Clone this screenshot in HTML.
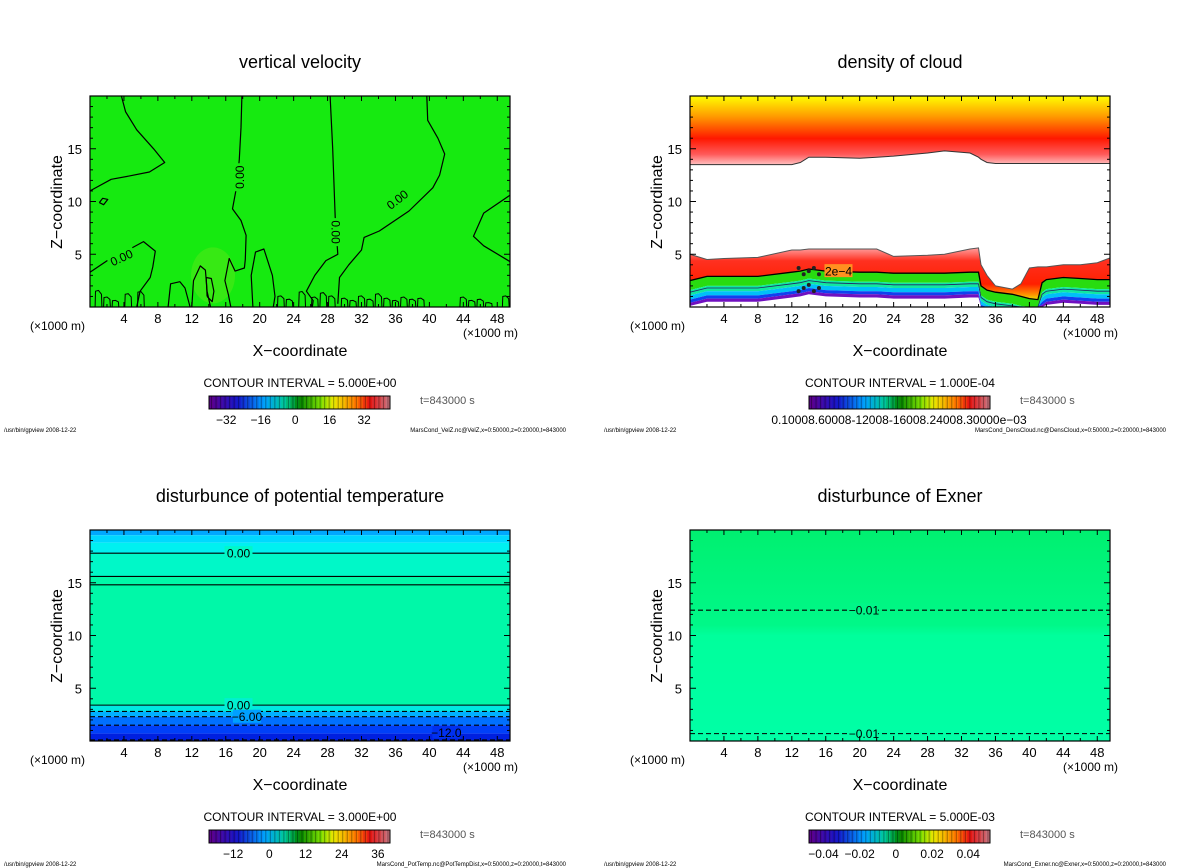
<!DOCTYPE html>
<html><head><meta charset="utf-8">
<style>
html,body{margin:0;padding:0;background:#fff;}
svg{display:block;font-family:"Liberation Sans","DejaVu Sans",sans-serif;}
</style></head>
<body>
<svg id="fig" width="1200" height="868" viewBox="0 0 1200 868" xmlns="http://www.w3.org/2000/svg">
<defs>
<linearGradient id="gUp" x1="0" y1="0" x2="0" y2="1">
<stop offset="0" stop-color="#ffff00"/><stop offset="0.3" stop-color="#ff9a00"/><stop offset="0.62" stop-color="#ff1800"/><stop offset="0.85" stop-color="#ff5a5a"/><stop offset="1" stop-color="#ffc0c0"/></linearGradient>
<linearGradient id="gRed" x1="0" y1="0" x2="0" y2="1">
<stop offset="0" stop-color="#ffa0a0"/><stop offset="0.25" stop-color="#ff3020"/><stop offset="0.7" stop-color="#ff2000"/><stop offset="0.9" stop-color="#ff9000"/><stop offset="1" stop-color="#e8e000"/></linearGradient>
<linearGradient id="gP4" x1="0" y1="0" x2="0" y2="1">
<stop offset="0" stop-color="#00f070"/><stop offset="0.45" stop-color="#00f888"/><stop offset="0.5" stop-color="#00ff9c"/><stop offset="1" stop-color="#00ffa6"/></linearGradient>
</defs>
</svg>
<script>
// ---------- data ----------
const xTicks = [4,8,12,16,20,24,28,32,36,40,44,48];
const zTicks = [5,10,15];
const titles = ["vertical velocity","density of cloud","disturbunce of potential temperature","disturbunce of Exner"];
const intervals = ["5.000E+00","1.000E-04","3.000E+00","5.000E-03"];
const cbLabels1 = ["-32","-16","0","16","32"];
const cbVals1 = [-32,-16,0,16,32];
const cbLabels3 = ["-12","0","12","24","36"];
const cbVals3 = [-12,0,12,24,36];
const cbLabels4 = ["-0.04","-0.02","0","0.02","0.04"];
const cbVals4 = [-0.04,-0.02,0,0.02,0.04];
const footers = ["MarsCond_VelZ.nc@VelZ,x=0:50000,z=0:20000,t=843000","MarsCond_DensCloud.nc@DensCloud,x=0:50000,z=0:20000,t=843000","MarsCond_PotTemp.nc@PotTempDist,x=0:50000,z=0:20000,t=843000","MarsCond_Exner.nc@Exner,x=0:50000,z=0:20000,t=843000"];

// panel 1 contour lines (x km, z km)
const velLineA = [[3.7,20],[4.2,18.5],[5.5,16.8],[7.5,15],[8.8,13.7],[7,12.8],[4.5,12.4],[2.5,12.1],[0,11]];
const velLineB = [[17.9,20],[17.8,17],[17.6,14],[17.3,11.5],[16.8,9.3],[17.8,8.2],[18.4,6.8],[18.3,4.5],[18.2,3.7],[17.1,3.4],[16.4,4.6],[15.9,2.5],[16.3,1.2],[16.6,0]];
const velLineC = [[28.3,20],[28.6,15],[28.9,8.5],[29.2,5],[27.8,4.4],[26.5,3],[25.5,1.5],[26.3,0.6],[26.2,0]];
const velLineD = [[39.7,20],[39.8,17.7],[41,16],[41.8,14.5],[41.2,12.5],[40.4,11.3],[37.6,9.1],[34.1,7.2],[32.3,6.6],[32,5.4],[30.5,4],[29.4,2.8],[29.2,0.3]];
const velLineE = [[49.5,10.6],[46.4,8.9],[45.2,6.7],[46.4,5.8],[49.5,4.3]];
const velLineF = [[0,3.3],[2.4,4.6],[4.7,5.5],[6.3,6.2],[7.7,5.3],[7.4,3.8],[7.1,2.8],[5.9,1.5],[5.5,0]];
const velLineG = [[19.2,0],[19.0,3],[19.5,5.2],[20.5,5.5],[21.5,3],[21.8,1],[21.6,0]];
const velLineH = [[9.2,0],[9.5,2.2],[10.6,2.4],[11.2,1.8],[11.8,0]];
const velLineI = [[12,0],[12.2,2.5],[13,3.9],[13.6,3.5],[13.8,1.5],[14.2,0]];
const velLoopJ = [[13.8,1],[13.7,2.8],[14.3,2.7],[14.6,1.5],[14.4,0.5],[13.8,1]];
const velLoopK = [[1.1,9.9],[1.5,10.3],[2.1,10.2],[1.6,9.7],[1.1,9.9]];
const velBottomX = [1,2,3,4.5,6,22.5,23.5,25,26.5,27.5,28.5,30,31,32,33,34,35,36,37,38,39,44,45,46,47,49];
const velBottomH = [1.5,0.9,0.6,1.2,1.4,1.0,0.7,1.4,0.9,1.3,1.0,0.8,0.6,1.0,0.7,1.2,0.8,0.6,0.9,0.7,0.8,0.9,0.6,0.7,0.4,1.0];

// panel 2 (density of cloud)
const cloudX = [0,2,4,8,12,13,14,16,20,22,24,28,30,33,34,34.3,35,36,38,39,40,41,41.5,42,44,46,48,50];
const upperBase = [13.5,13.5,13.5,13.5,13.5,13.7,14.2,14.2,14.1,14.2,14.3,14.6,14.8,14.6,14.2,14.0,13.7,13.6,13.6,13.6,13.6,13.6,13.6,13.6,13.6,13.6,13.6,13.6];
const lowerTop = [5.0,4.5,4.6,4.7,5.4,5.4,5.5,5.5,5.5,5.5,4.8,4.9,5.0,5.5,5.6,4.0,3.0,2.0,1.7,2.2,3.7,3.8,3.8,3.8,4.0,4.0,4.2,4.8];
const cont2e4 = [2.5,2.9,2.9,2.9,3.3,3.4,3.6,3.4,3.3,3.3,3.2,3.2,3.2,3.3,3.3,2.0,1.6,1.4,1.2,1.0,0.8,0.7,2.3,2.6,2.8,2.7,2.6,2.6];

// panel 3 (potential temperature) horizontal contours
const ptLevels = [17.8,15.6,14.8,3.4,2.8,2.3,1.5,0.1];
const ptDashed = [false,false,false,false,true,true,true,true];
// panel 4 (Exner)
const exLevels = [12.4,0.7];
</script>
<script>
const svg = document.getElementById('fig');
const NS = 'http://www.w3.org/2000/svg';
function mk(tag, attrs, parent, text){
  const e = document.createElementNS(NS, tag);
  for (const k in attrs) e.setAttribute(k, attrs[k]);
  if (text !== undefined) e.textContent = text;
  (parent||svg).appendChild(e);
  return e;
}
const PW = 420, PH = 211, XMAX = 49.5, ZMAX = 20;
const origins = [[90,96],[690,96],[90,530],[690,530]];
function axes(i){
  const [ox,oy] = origins[i];
  return {
    X: x => ox + x/XMAX*PW,
    Z: z => oy + PH - z/ZMAX*PH
  };
}
function pathOf(pts, ax){
  return pts.map((p,j)=>(j?'L':'M')+ax.X(p[0]).toFixed(1)+','+ax.Z(p[1]).toFixed(1)).join(' ');
}
function rainbow(t){
  const stops=[[0,[90,0,140]],[0.15,[20,20,200]],[0.3,[0,160,255]],[0.42,[0,200,150]],[0.5,[0,130,0]],[0.62,[120,220,0]],[0.7,[240,230,0]],[0.82,[255,120,0]],[0.9,[230,20,20]],[1,[200,110,120]]];
  for(let k=1;k<stops.length;k++){ if(t<=stops[k][0]){const a=stops[k-1],b=stops[k];const f=(t-a[0])/(b[0]-a[0]);return 'rgb('+a[1].map((v,m)=>Math.round(v+(b[1][m]-v)*f)).join(',')+')';}}
  return 'rgb(200,110,120)';
}

function panelFrame(i){
  const [ox,oy]=origins[i]; const ax=axes(i); const cx = ox+210; const g = mk('g',{});
  
  
  const t = mk('text',{x:cx,y:oy-28,'text-anchor':'middle','font-size':18,fill:'#000'},g,titles[i]);
   
  mk('rect',{x:ox,y:oy,width:PW,height:PH,fill:'none',stroke:'#000','stroke-width':1.2},g);
  for(let x=1;x<50;x++){ const L = x%4===0?5:(x%2===0?3:0); if(!L)continue;
    mk('line',{x1:ax.X(x),x2:ax.X(x),y1:oy,y2:oy+L,stroke:'#000'},g);
    mk('line',{x1:ax.X(x),x2:ax.X(x),y1:oy+PH,y2:oy+PH-L,stroke:'#000'},g);}
  for(let z=1;z<20;z++){ const L = z%5===0?6:3;
    mk('line',{x1:ox,x2:ox+L,y1:ax.Z(z),y2:ax.Z(z),stroke:'#000'},g);
    mk('line',{x1:ox+PW,x2:ox+PW-L,y1:ax.Z(z),y2:ax.Z(z),stroke:'#000'},g);}
  xTicks.forEach(v=>{const e=mk('text',{x:ax.X(v),y:oy+PH+16,'text-anchor':'middle','font-size':13},g,String(v));
     });
  zTicks.forEach(v=>{const e=mk('text',{x:ox-8,y:ax.Z(v)+5,'text-anchor':'end','font-size':13},g,String(v));
     });
  const yl = mk('text',{x:0,y:0,transform:'translate('+(ox-28)+','+(oy+106)+') rotate(-90)','text-anchor':'middle','font-size':16},g,'Z\u2212coordinate');
   
  const xl = mk('text',{x:cx,y:oy+PH+49,'text-anchor':'middle','font-size':16},g,'X\u2212coordinate');
   
  const u1 = mk('text',{x:ox-60,y:oy+PH+23,'font-size':12},g,'(\u00d71000 m)');
   
  const u2 = mk('text',{x:ox+PW+8,y:oy+PH+30,'text-anchor':'end','font-size':12},g,'(\u00d71000 m)');
   
  const ci = mk('text',{x:cx,y:oy+PH+80,'text-anchor':'middle','font-size':12},g,'CONTOUR INTERVAL = '+intervals[i]);
   
  const ts = mk('text',{x:ox+330,y:oy+PH+97,'font-size':11,fill:'#555'},g,'t=843000 s');
   
  const f1 = mk('text',{x:ox-86,y:oy+PH+125,'font-size':6},g,'/usr/bin/gpview   2008-12-22');
   
  const f2 = mk('text',{x:ox+476,y:oy+PH+125,'text-anchor':'end','font-size':6},g,footers[i]);
   
  const bx=ox+119, by=oy+PH+89, bw=181, bh=13, n=40;
  const cb = mk('g',{},g);  
  for(let k=0;k<n;k++){ const c=rainbow(k/(n-1));
    mk('rect',{x:bx+k*bw/n,y:by,width:bw/n+0.3,height:bh,fill:c},cb);
    mk('line',{x1:bx+k*bw/n+2.5,x2:bx+k*bw/n+2.5,y1:by,y2:by+bh,stroke:'rgba(0,0,0,0.35)','stroke-width':1},cb);}
  mk('rect',{x:bx,y:by,width:bw,height:bh,fill:'none',stroke:'#000'},cb);
  return {g,ax,bx,by,bw};
}
function cbTicks(p, vals, labels, vmin, vmax){
  vals.forEach((v,k)=>{const e=mk('text',{x:p.bx+(v-vmin)/(vmax-vmin)*p.bw,y:p.by+28,'text-anchor':'middle','font-size':12},p.g,labels[k].replace('-','\u2212'));
     });
}
function clipFor(i){
  const [ox,oy]=origins[i]; const id='clip'+i;
  const cp = mk('clipPath',{id:id}); mk('rect',{x:ox,y:oy,width:PW,height:PH},cp);
  const g = mk('g',{'clip-path':'url(#'+id+')'}); return g;
}
function labelAt(parent, x, y, text, rot, bg){
  const g = mk('g',{transform:'translate('+x+','+y+') rotate('+(rot||0)+')'},parent);
   
  mk('rect',{x:-14,y:-7,width:28,height:13,fill:bg},g);
  mk('text',{x:0,y:4.5,'text-anchor':'middle','font-size':12},g,text);
}

// ---------- Panel 1 ----------
(function(){
  const i=0, ax=axes(i), cg=clipFor(i);
  const f = mk('rect',{x:origins[i][0],y:origins[i][1],width:PW,height:PH,fill:'#16ea10'},cg);
   
  mk('ellipse',{cx:ax.X(14.5),cy:ax.Z(3),rx:22,ry:28,fill:'#4ee818',opacity:0.6},cg);
  [velLineA,velLineB,velLineC,velLineD,velLineE,velLineF,velLineG,velLineH,velLineI,velLoopJ,velLoopK].forEach(l=>{
    const p=mk('path',{d:pathOf(l,ax),fill:'none',stroke:'#000','stroke-width':1.2,'stroke-linejoin':'round'},cg);
     });
  velBottomX.forEach((x,k)=>{
    const h=velBottomH[k];
    const p=mk('path',{d:pathOf([[x-0.4,0],[x-0.35,h],[x,h*1.05],[x+0.35,h*0.8],[x+0.4,0]],ax),fill:'none',stroke:'#000','stroke-width':1},cg);
     });
  labelAt(cg, ax.X(3.7), ax.Z(4.7), '0.00', -25, '#16ea10');
  labelAt(cg, ax.X(17.6), ax.Z(12.3), '0.00', -90, '#16ea10');
  labelAt(cg, ax.X(29.0), ax.Z(7.1), '0.00', 90, '#16ea10');
  labelAt(cg, ax.X(36.2), ax.Z(10.2), '0.00', -38, '#16ea10');
  const p=panelFrame(i); cbTicks(p,cbVals1,cbLabels1,-40,44);
})();

// ---------- Panel 2 ----------
(function(){
  const i=1, ax=axes(i), cg=clipFor(i);
  const up = cloudX.map((x,k)=>[x,upperBase[k]]);
  const upPoly = [[0,20],[50,20]].concat(up.slice().reverse());
  const u = mk('path',{d:pathOf(upPoly,ax)+'Z',fill:'url(#gUp)'},cg);
   
  mk('path',{d:pathOf(up,ax),fill:'none',stroke:'#333','stroke-width':1},cg);
  const off = [0,-0.9,-1.4,-1.8,-2.1,-2.4];
  const cols = ['#28dc10','#10e8a0','#00c0f8','#1040f0','#7010c0'];
  const topPoly = cloudX.map((x,k)=>[x,lowerTop[k]]);
  const cpts = cloudX.map((x,k)=>[x,cont2e4[k]]);
  const red = mk('path',{d:pathOf(topPoly.concat(cpts.slice().reverse()),ax)+'Z',fill:'url(#gRed)'},cg);
   
  for(let L=0;L<cols.length;L++){
    const a = cloudX.map((x,k)=>[x,Math.max(0,cont2e4[k]+off[L])]);
    const b = cloudX.map((x,k)=>[x,Math.max(0,cont2e4[k]+off[L+1])]).reverse();
    const e=mk('path',{d:pathOf(a.concat(b),ax)+'Z',fill:cols[L]},cg);
     
  }
  mk('path',{d:pathOf(topPoly,ax),fill:'none',stroke:'#555','stroke-width':1},cg);
  const cl = mk('path',{d:pathOf(cpts,ax),fill:'none',stroke:'#000','stroke-width':1.3},cg);
   
  mk('path',{d:pathOf(cloudX.map((x,k)=>[x,Math.max(0,cont2e4[k]-1.1)]),ax),fill:'none',stroke:'#226','stroke-width':0.8},cg);
  labelAt(cg, ax.X(17.5), ax.Z(3.4), '2e\u22124', 0, '#ff9020');
  for(let k=0;k<10;k++){ mk('circle',{cx:ax.X(12.8+ (k%5)*0.6),cy:ax.Z(1.5+Math.floor(k/5)*1.6+(k%3)*0.3),r:2,fill:'#222'},cg); }
  const p=panelFrame(i);
  const e=mk('text',{x:p.bx+90,y:p.by+28,'text-anchor':'middle','font-size':12},p.g,'0.10008.60008-12008-16008.24008.30000e\u221203');
   
})();

// ---------- Panel 3 ----------
(function(){
  const i=2, ax=axes(i), cg=clipFor(i);
  const bands=[[20,19.5,'#00a8ff'],[19.5,18.8,'#00d8ff'],[18.8,17.8,'#00f0f0'],[17.8,15.6,'#00f8c8'],[15.6,3.4,'#00f8a8'],[3.4,2.8,'#00e8e0'],[2.8,2.3,'#00b0ff'],[2.3,1.5,'#0070ff'],[1.5,0.7,'#0040f8'],[0.7,0,'#0020e0']];
  bands.forEach(b=>{const r=mk('rect',{x:origins[i][0],y:ax.Z(b[0]),width:PW,height:ax.Z(b[1])-ax.Z(b[0]),fill:b[2]},cg);
     });
  ptLevels.forEach((z,k)=>{const l=mk('line',{x1:origins[i][0],x2:origins[i][0]+PW,y1:ax.Z(z),y2:ax.Z(z),stroke:'#000','stroke-width':1.1,'stroke-dasharray':ptDashed[k]?'5,3':'none'},cg);
     });
  labelAt(cg, ax.X(17.5), ax.Z(17.8), '0.00', 0, '#00f8c8');
  labelAt(cg, ax.X(17.5), ax.Z(3.4), '0.00', 0, '#00f0d0');
  labelAt(cg, ax.X(18.5), ax.Z(2.3), '\u22126.00', 0, '#00a0ff');
  labelAt(cg, ax.X(42), ax.Z(0.8), '\u221212.0', 0, '#0030f0');
  const p=panelFrame(i); cbTicks(p,cbVals3,cbLabels3,-20,40);
})();

// ---------- Panel 4 ----------
(function(){
  const i=3, ax=axes(i), cg=clipFor(i);
  const r=mk('rect',{x:origins[i][0],y:origins[i][1],width:PW,height:PH,fill:'url(#gP4)'},cg);
   
  exLevels.forEach(z=>{const l=mk('line',{x1:origins[i][0],x2:origins[i][0]+PW,y1:ax.Z(z),y2:ax.Z(z),stroke:'#000','stroke-width':1.1,'stroke-dasharray':'5,3'},cg);
     });
  labelAt(cg, ax.X(20.5), ax.Z(12.4), '\u22120.01', 0, '#00f688');
  labelAt(cg, ax.X(20.5), ax.Z(0.7), '\u22120.01', 0, '#00ffa6');
  const p=panelFrame(i); cbTicks(p,cbVals4,cbLabels4,-0.048,0.052);
})();
</script>
</body></html>
